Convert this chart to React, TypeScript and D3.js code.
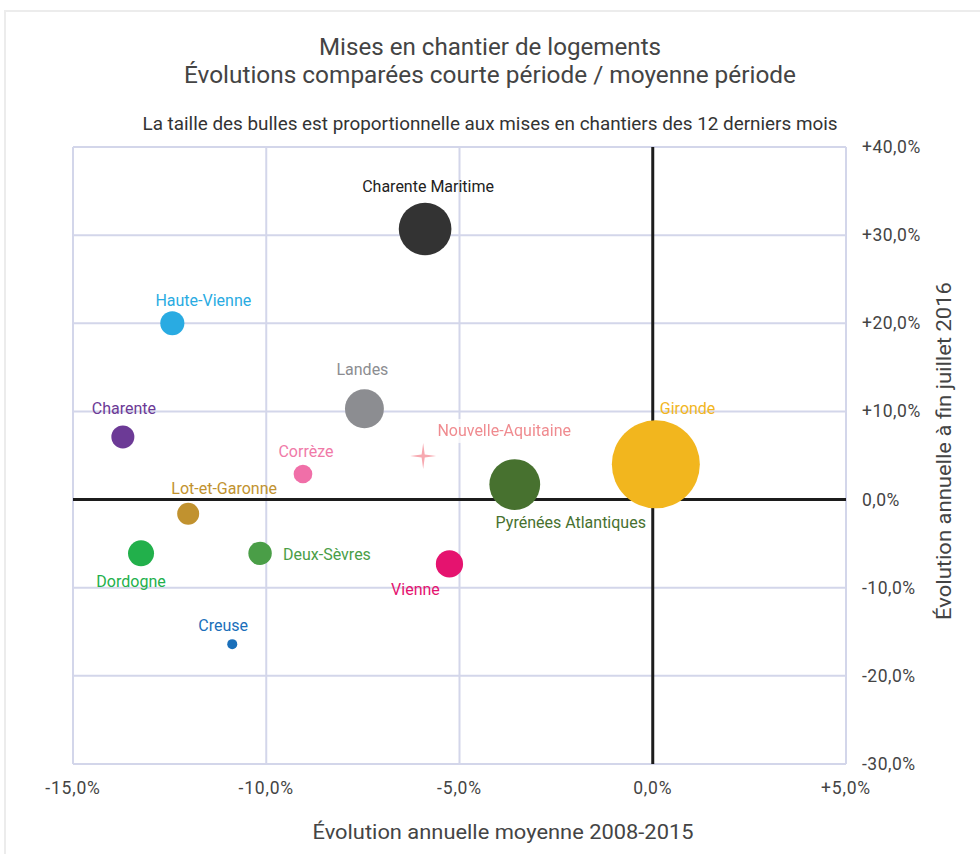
import React from "react";
import * as d3 from "d3";

const departments = [
  "Charente Maritime",
  "Haute-Vienne",
  "Landes",
  "Charente",
  "Corrèze",
  "Lot-et-Garonne",
  "Dordogne",
  "Deux-Sèvres",
  "Creuse",
  "Vienne",
  "Pyrénées Atlantiques",
  "Gironde",
];
// Évolution annuelle moyenne 2008-2015 (%)
const evolMoyenne = [-5.89, -12.43, -7.46, -13.71, -9.05, -12.02, -13.24, -10.16, -10.88, -5.26, -3.57, 0.08];
// Évolution annuelle à fin juillet 2016 (%)
const evolCourte = [30.7, 20.0, 10.3, 7.1, 2.9, -1.6, -6.1, -6.1, -16.4, -7.3, 1.7, 4.0];
// Mises en chantier des 12 derniers mois (taille des bulles)
const misesEnChantier = [4300, 900, 2350, 820, 540, 750, 1050, 850, 155, 1150, 4000, 12000];

const regionName = "Nouvelle-Aquitaine";
const regionX = -5.94;
const regionY = 4.95;

const xTicks = [-15, -10, -5, 0, 5];
const yTicks = [40, 30, 20, 10, 0, -10, -20, -30];

const colors = [
  "#333333",
  "#29abe2",
  "#8c8d91",
  "#6c3a96",
  "#f06fa8",
  "#c1922f",
  "#22b04b",
  "#4a9e47",
  "#1a6fba",
  "#e5136f",
  "#47712f",
  "#f2b61e",
];
const labelColors = [
  "#222222",
  "#29abe2",
  "#8c8d91",
  "#6c3a96",
  "#f07aa8",
  "#c1922f",
  "#22b04b",
  "#4a9e47",
  "#1a6fba",
  "#e5136f",
  "#47712f",
  "#f2b61e",
];
// label placement relative to bubble centre: [dx, dy, anchor]
const labelPlacement: [number, number, string][] = [
  [3, -42, "middle"],
  [31, -23, "middle"],
  [-2, -39, "middle"],
  [1, -28, "middle"],
  [3, -23, "middle"],
  [36, -25, "middle"],
  [-10, 28, "middle"],
  [23, 1, "start"],
  [-9, -19, "middle"],
  [-34, 26, "middle"],
  [56, 38, "middle"],
  [4, -56, "start"],
];

const fmt = (v: number) => {
  const s = Math.abs(v).toFixed(1).replace(".", ",") + "%";
  return (v > 0 ? "+" : v < 0 ? "-" : "") + s;
};

export default function App() {
  const W = 980;
  const H = 854;
  const left = 73;
  const right = 846;
  const top = 147;
  const bottom = 764;

  const x = d3.scaleLinear().domain([-15, 5]).range([left, right]);
  const y = d3.scaleLinear().domain([-30, 40]).range([bottom, top]);
  const r = d3.scaleSqrt().domain([0, 12000]).range([0, 44]);

  const starPts: [number, number][] = [];
  for (let i = 0; i < 8; i++) {
    starPts.push([(i * Math.PI) / 4, i % 2 === 0 ? 13 : 2.2]);
  }
  const starPath = d3.lineRadial().curve(d3.curveLinearClosed)(starPts) || "";

  const font = "Roboto, 'Noto Sans', sans-serif";
  const grid = "#d3d6ea";

  return (
    <svg
      width={W}
      height={H}
      style={{ position: "absolute", left: 0, top: 0, background: "#fff" }}
      fontFamily={font}
    >
      <defs>
        <filter id="blur" x="-10%" y="-50%" width="120%" height="200%">
          <feGaussianBlur stdDeviation="0.6" />
        </filter>
      </defs>
      <rect x={5} y={11} width={1200} height={1200} fill="#fff" stroke="#ececec" strokeWidth={2} />

      {/* titles */}
      <text x={490} y={47} textAnchor="middle" dominantBaseline="central" fontSize={24} fill="#444" textLength={342} lengthAdjust="spacingAndGlyphs">
        Mises en chantier de logements
      </text>
      <text x={490} y={75} textAnchor="middle" dominantBaseline="central" fontSize={24} fill="#444" textLength={612} lengthAdjust="spacingAndGlyphs">
        Évolutions comparées courte période / moyenne période
      </text>
      <text x={490} y={124} textAnchor="middle" dominantBaseline="central" fontSize={17.5} fill="#333" textLength={695} lengthAdjust="spacingAndGlyphs">
        La taille des bulles est proportionnelle aux mises en chantiers des 12 derniers mois
      </text>

      {/* grid */}
      {xTicks.filter((t) => t !== 0).map((t) => (
        <line key={"gx" + t} x1={x(t)} x2={x(t)} y1={top} y2={bottom} stroke={grid} strokeWidth={2} />
      ))}
      {yTicks.filter((t) => t !== 0).map((t) => (
        <line key={"gy" + t} x1={left} x2={right} y1={y(t)} y2={y(t)} stroke={grid} strokeWidth={2} />
      ))}
      <line x1={x(0)} x2={x(0)} y1={top} y2={bottom} stroke="#1c1c1c" strokeWidth={3} />
      <line x1={left} x2={right} y1={y(0)} y2={y(0)} stroke="#1c1c1c" strokeWidth={3} />

      {/* y ticks */}
      {yTicks.map((t) => (
        <text key={"ty" + t} x={862} y={y(t)} dominantBaseline="central" fontSize={17.5} fill="#444" letterSpacing={0.5}>
          {fmt(t)}
        </text>
      ))}
      {/* x ticks */}
      {xTicks.map((t) => (
        <text key={"tx" + t} x={x(t)} y={788} textAnchor="middle" dominantBaseline="central" fontSize={17.5} fill="#444" letterSpacing={0.8}>
          {fmt(t)}
        </text>
      ))}

      {/* axis titles */}
      <text x={503} y={832} textAnchor="middle" dominantBaseline="central" fontSize={21} fill="#444" textLength={381} lengthAdjust="spacingAndGlyphs">
        Évolution annuelle moyenne 2008-2015
      </text>
      <text
        transform={`translate(944, 451) rotate(-90)`}
        textAnchor="middle"
        dominantBaseline="central"
        fontSize={21}
        fill="#444"
        textLength={338}
        lengthAdjust="spacingAndGlyphs"
      >
        Évolution annuelle à fin juillet 2016
      </text>

      {/* region marker */}
      <path d={starPath} transform={`translate(${x(regionX)}, ${y(regionY)})`} fill="#f7a9b0" />
      <rect x={x(regionX) + 9} y={y(regionY) - 37} width={145} height={24} fill="#fff" opacity={0.75} />
      <text
        x={x(regionX) + 81}
        y={y(regionY) - 25}
        textAnchor="middle"
        dominantBaseline="central"
        fontSize={16}
        fill="#ee7f84"
        filter="url(#blur)"
        opacity={0.9}
      >
        {regionName}
      </text>

      {/* bubbles */}
      {departments.map((d, i) => (
        <circle key={"c" + d} cx={x(evolMoyenne[i])} cy={y(evolCourte[i])} r={r(misesEnChantier[i])} fill={colors[i]} />
      ))}
      {departments.map((d, i) => (
        <text
          key={"l" + d}
          x={x(evolMoyenne[i]) + labelPlacement[i][0]}
          y={y(evolCourte[i]) + labelPlacement[i][1]}
          textAnchor={labelPlacement[i][2]}
          dominantBaseline="central"
          fontSize={16}
          fill={labelColors[i]}
        >
          {d}
        </text>
      ))}
    </svg>
  );
}
